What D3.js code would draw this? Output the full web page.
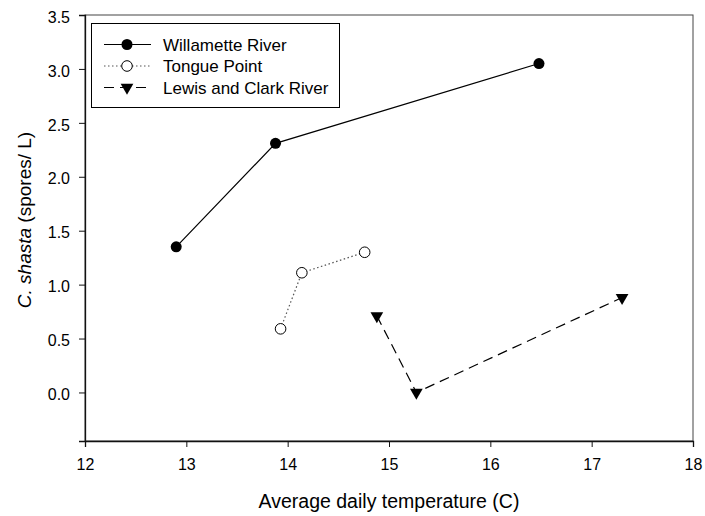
<!DOCTYPE html>
<html>
<head>
<meta charset="utf-8">
<script src="https://cdn.jsdelivr.net/npm/d3@7"></script>
<style>
  body { margin: 0; background: #fff; }
  text { font-family: "Liberation Sans", Arial, sans-serif; fill: #000; }
</style>
</head>
<body>
<svg id="chart" width="705" height="516"></svg>
<script>
const width = 705;
const height = 516;
const margin = {top: 15, right: 12, bottom: 75, left: 85};

// series: temperature (C) and spores per litre
const willametteX = [12.90, 13.88, 16.48];
const willametteY = [1.35, 2.31, 3.05];
const tongueX = [13.93, 14.14, 14.76];
const tongueY = [0.59, 1.11, 1.30];
const lewisX = [14.88, 15.27, 17.30];
const lewisY = [0.71, 0.00, 0.88];

const seriesNames = ["Willamette River", "Tongue Point", "Lewis and Clark River"];
const xTicks = [12, 13, 14, 15, 16, 17, 18];
const yTicks = [0.0, 0.5, 1.0, 1.5, 2.0, 2.5, 3.0, 3.5];

const series = [
  {name: seriesNames[0], xs: willametteX, ys: willametteY, dash: null, stroke: "#000", symbol: "filled"},
  {name: seriesNames[1], xs: tongueX, ys: tongueY, dash: "1.5,2.5", stroke: "#555", symbol: "open"},
  {name: seriesNames[2], xs: lewisX, ys: lewisY, dash: "10,6", stroke: "#000", symbol: "tri"}
];

const svg = d3.select("#chart");

const x = d3.scaleLinear().domain([12, 18]).range([margin.left, 693]);
const y = d3.scaleLinear().domain([-0.45, 3.5]).range([441, margin.top]);

// frame
svg.append("rect")
  .attr("x", x(12)).attr("y", y(3.5))
  .attr("width", x(18) - x(12)).attr("height", y(-0.45) - y(3.5))
  .attr("fill", "none").attr("stroke", "#444").attr("stroke-width", 1);

const xAxis = svg.append("g")
  .attr("transform", `translate(0,${y(-0.45)})`)
  .call(d3.axisBottom(x).tickValues(xTicks).tickFormat(d3.format("d")).tickSize(6).tickPadding(12));
const yAxis = svg.append("g")
  .attr("transform", `translate(${x(12)},0)`)
  .call(d3.axisLeft(y).tickValues(yTicks).tickFormat(d3.format(".1f")).tickSize(6).tickPadding(9));

[xAxis, yAxis].forEach(a => {
  a.select(".domain").attr("stroke", "#111").attr("stroke-width", 1.3);
  a.selectAll(".tick line").attr("stroke", "#111");
  a.selectAll("text").attr("font-size", 16).attr("font-family", '"Liberation Sans", Arial, sans-serif').attr("fill", "#000");
});
yAxis.selectAll("text").attr("dy", "0.45em");

// axis titles
svg.append("text")
  .attr("x", (x(12) + x(18)) / 2)
  .attr("y", 508)
  .attr("text-anchor", "middle")
  .attr("font-size", 19.5)
  .text("Average daily temperature (C)");

const yt = svg.append("text")
  .attr("transform", `translate(31,220) rotate(-90)`)
  .attr("text-anchor", "middle")
  .attr("font-size", 19);
yt.append("tspan").attr("font-style", "italic").text("C. shasta");
yt.append("tspan").text(" (spores/ L)");

const line = d3.line().x(d => x(d[0])).y(d => y(d[1]));
const tri = d3.symbol().type(d3.symbolTriangle).size(70);

function drawMarker(g, s, cx, cy) {
  if (s.symbol === "filled") {
    g.append("circle").attr("cx", cx).attr("cy", cy).attr("r", 5.5).attr("fill", "#000");
  } else if (s.symbol === "open") {
    g.append("circle").attr("cx", cx).attr("cy", cy).attr("r", 5.3)
      .attr("fill", "#fff").attr("stroke", "#000").attr("stroke-width", 1);
  } else {
    g.append("path").attr("d", tri())
      .attr("transform", `translate(${cx},${cy}) rotate(180)`).attr("fill", "#000");
  }
}

series.forEach(s => {
  const pts = s.xs.map((v, i) => [v, s.ys[i]]);
  svg.append("path")
    .attr("d", line(pts))
    .attr("fill", "none")
    .attr("stroke", s.stroke)
    .attr("stroke-width", 1.2)
    .attr("stroke-dasharray", s.dash);
  const g = svg.append("g");
  pts.forEach(p => drawMarker(g, s, x(p[0]), y(p[1])));
});

// legend
const legend = svg.append("g");
legend.append("rect")
  .attr("x", 91.5).attr("y", 23.5).attr("width", 248).attr("height", 84)
  .attr("fill", "#fff").attr("stroke", "#000").attr("stroke-width", 1);
series.forEach((s, i) => {
  const ly = 44.5 + i * 21.5;
  legend.append("line")
    .attr("x1", 104).attr("x2", 151).attr("y1", ly).attr("y2", ly)
    .attr("stroke", s.stroke).attr("stroke-width", 1.2)
    .attr("stroke-dasharray", s.dash);
  drawMarker(legend, s, 127, ly);
  legend.append("text")
    .attr("x", 163).attr("y", ly + 6)
    .attr("font-size", 17)
    .text(s.name);
});
</script>
</body>
</html>
